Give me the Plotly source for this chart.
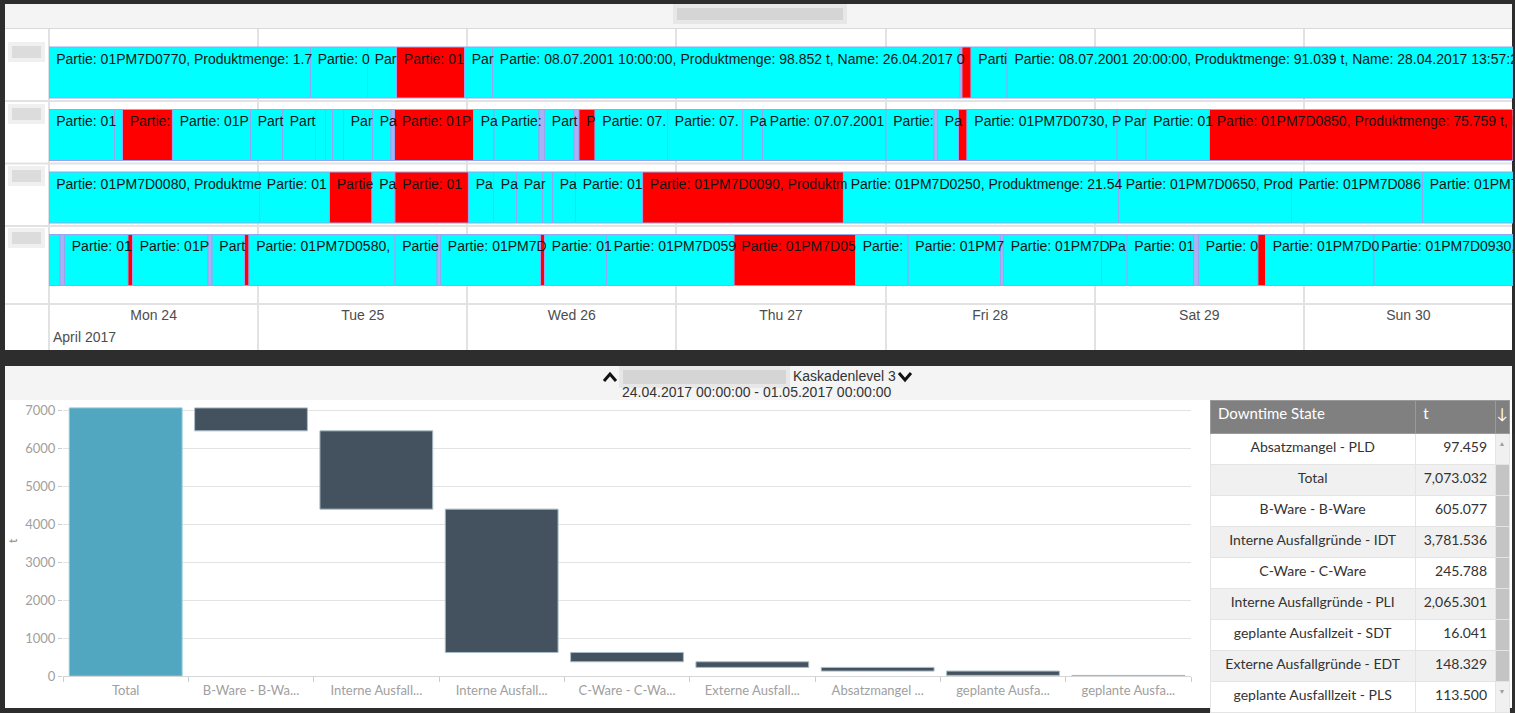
import plotly.graph_objects as go
from datetime import datetime

W, H = 1515, 713

# ---------------- timeline data ----------------
timeline_start = "2017-04-24 00:00"
timeline_end = "2017-05-01 00:00"

row1_starts = ["2017-04-24 00:00", "2017-04-25 06:00", "2017-04-25 12:33", "2017-04-25 15:53",
               "2017-04-25 23:41", "2017-04-26 02:54", "2017-04-28 08:32", "2017-04-28 08:46",
               "2017-04-28 09:49", "2017-04-28 13:57"]
row1_states = ["run", "run", "run", "down", "run", "run", "none", "down", "run", "run"]
row1_labels = ["Partie: 01PM7D0770, Produktmenge: 1.7", "Partie: 0", "Par", "Partie: 01",
               "Par", "Partie: 08.07.2001 10:00:00, Produktmenge: 98.852 t, Name: 26.04.2017 0",
               "", "", "Parti",
               "Partie: 08.07.2001 20:00:00, Produktmenge: 91.039 t, Name: 28.04.2017 13:57:2"]

row2_starts = ["2017-04-24 00:00", "2017-04-24 07:31", "2017-04-24 08:26", "2017-04-24 14:10",
               "2017-04-24 23:07", "2017-04-25 02:48", "2017-04-25 06:35", "2017-04-25 07:44",
               "2017-04-25 08:32", "2017-04-25 09:48", "2017-04-25 13:07", "2017-04-25 15:15",
               "2017-04-25 15:39", "2017-04-26 00:43", "2017-04-26 03:04", "2017-04-26 08:14",
               "2017-04-26 08:52", "2017-04-26 12:15", "2017-04-26 12:49", "2017-04-26 14:40",
               "2017-04-26 22:59", "2017-04-27 07:35", "2017-04-27 09:53", "2017-04-28 00:03",
               "2017-04-28 05:34", "2017-04-28 05:58", "2017-04-28 08:22", "2017-04-28 09:21",
               "2017-04-29 02:34", "2017-04-29 05:53", "2017-04-29 13:10"]
row2_states = ["run", "run", "down", "run", "run", "run", "run", "run", "run", "run", "run",
               "none", "down", "run", "run", "none", "run", "none", "down", "run", "run", "run",
               "run", "run", "none", "run", "down", "run", "run", "run", "down"]
row2_labels = ["Partie: 01", "", "Partie:", "Partie: 01P", "Part", "Part", "", "", "", "Par",
               "Pa", "", "Partie: 01P", "Pa", "Partie:", "", "Part", "", "P", "Partie: 07.",
               "Partie: 07.", "Pa", "Partie: 07.07.2001", "Partie:", "", "Pa", "",
               "Partie: 01PM7D0730, P", "Par", "Partie: 01",
               "Partie: 01PM7D0850, Produktmenge: 75.759 t, N"]

row3_starts = ["2017-04-24 00:00", "2017-04-25 00:10", "2017-04-25 08:11", "2017-04-25 13:04",
               "2017-04-25 15:42", "2017-04-26 00:08", "2017-04-26 03:01", "2017-04-26 05:39",
               "2017-04-26 08:38", "2017-04-26 09:47", "2017-04-26 12:25", "2017-04-26 20:07",
               "2017-04-27 19:10", "2017-04-29 02:44", "2017-04-29 22:35", "2017-04-30 13:37"]
row3_states = ["run", "run", "down", "run", "down", "run", "run", "run", "run", "run", "run",
               "down", "run", "run", "run", "run"]
row3_labels = ["Partie: 01PM7D0080, Produktme", "Partie: 01", "Partie", "Pa", "Partie: 01",
               "Pa", "Pa", "Par", "", "Pa", "Partie: 01", "Partie: 01PM7D0090, Produktm",
               "Partie: 01PM7D0250, Produktmenge: 21.54", "Partie: 01PM7D0650, Prod",
               "Partie: 01PM7D086", "Partie: 01PM7"]

row4_starts = ["2017-04-24 00:00", "2017-04-24 01:16", "2017-04-24 01:47", "2017-04-24 09:04",
               "2017-04-24 09:35", "2017-04-24 18:15", "2017-04-24 18:43", "2017-04-24 22:26",
               "2017-04-24 22:57", "2017-04-25 15:42", "2017-04-25 20:32", "2017-04-25 20:56",
               "2017-04-26 08:24", "2017-04-26 08:52", "2017-04-26 15:59", "2017-04-27 06:37",
               "2017-04-27 20:33", "2017-04-28 02:35", "2017-04-28 13:11", "2017-04-28 13:32",
               "2017-04-29 00:47", "2017-04-29 03:43", "2017-04-29 11:20", "2017-04-29 11:55",
               "2017-04-29 18:44", "2017-04-29 19:36", "2017-04-30 08:03"]
row4_states = ["run", "none", "run", "down", "run", "none", "run", "down", "run", "run", "none",
               "run", "down", "run", "run", "down", "run", "run", "none", "run", "run", "run",
               "none", "run", "down", "run", "run"]
row4_labels = ["", "", "Partie: 01", "", "Partie: 01P", "", "Part", "", "Partie: 01PM7D0580,",
               "Partie", "", "Partie: 01PM7D", "", "Partie: 01", "Partie: 01PM7D059",
               "Partie: 01PM7D05", "Partie:", "Partie: 01PM7", "", "Partie: 01PM7D", "Pa",
               "Partie: 01", "", "Partie: 0", "", "Partie: 01PM7D0", "Partie: 01PM7D0930,"]

rows = [(row1_starts, row1_states, row1_labels),
        (row2_starts, row2_states, row2_labels),
        (row3_starts, row3_states, row3_labels),
        (row4_starts, row4_states, row4_labels)]

state_colors = {"run": "#00ffff", "down": "#ff0000", "none": "#a9b1f2"}

# ---------------- waterfall / table data ----------------
table_states = ["Absatzmangel - PLD", "Total", "B-Ware - B-Ware", "Interne Ausfallgründe - IDT",
                "C-Ware - C-Ware", "Interne Ausfallgründe - PLI", "geplante Ausfallzeit - SDT",
                "Externe Ausfallgründe - EDT", "geplante Ausfalllzeit - PLS"]
table_values = [97.459, 7073.032, 605.077, 3781.536, 245.788, 2065.301, 16.041, 148.329, 113.500]

waterfall_order = ["Total", "B-Ware - B-Ware", "Interne Ausfallgründe - PLI",
                   "Interne Ausfallgründe - IDT", "C-Ware - C-Ware", "Externe Ausfallgründe - EDT",
                   "Absatzmangel - PLD", "geplante Ausfalllzeit - PLS", "geplante Ausfallzeit - SDT"]
waterfall_ticks = ["Total", "B-Ware - B-Wa...", "Interne Ausfall...", "Interne Ausfall...",
                   "C-Ware - C-Wa...", "Externe Ausfall...", "Absatzmangel ...",
                   "geplante Ausfa...", "geplante Ausfa..."]
value_unit = "t"

period_label = "24.04.2017 00:00:00 - 01.05.2017 00:00:00"
cascade_label = "Kaskadenlevel 3"


def px(x):
    return x / W


def py(y):
    return 1 - y / H


fig = go.Figure()

# ---- timeline bars ----
fmt = "%Y-%m-%d %H:%M"
for r, (starts, states, labels) in enumerate(rows):
    ends = starts[1:] + [timeline_end]
    durations = [(datetime.strptime(e, fmt) - datetime.strptime(s, fmt)).total_seconds() * 1000
                 for s, e in zip(starts, ends)]
    fig.add_trace(go.Bar(
        orientation="h", y=[r] * len(starts), base=starts, x=durations, width=0.816,
        marker=dict(color=[state_colors[s] for s in states], line=dict(color="#97a4f0", width=1)),
        xaxis="x", yaxis="y", hoverinfo="skip", showlegend=False))
    fig.add_trace(go.Scatter(
        x=starts, y=[r - 0.2] * len(starts), mode="markers+text", text=labels,
        textposition="middle right", marker=dict(size=10, opacity=0),
        textfont=dict(family="Liberation Sans, Arial", size=14, color="#161616"),
        xaxis="x", yaxis="y", hoverinfo="skip", showlegend=False, cliponaxis=True))

# ---- waterfall ----
lookup = dict(zip(table_states, table_values))
wf_values = [lookup[n] if n == "Total" else -lookup[n] for n in waterfall_order]
wf_measure = ["absolute" if n == "Total" else "relative" for n in waterfall_order]
fig.add_trace(go.Waterfall(
    x=waterfall_order, y=wf_values, measure=wf_measure, xaxis="x2", yaxis="y2",
    decreasing=dict(marker=dict(color="#43525e", line=dict(color="#a9bcc6", width=1))),
    increasing=dict(marker=dict(color="#43525e")),
    totals=dict(marker=dict(color="#51a7c0", line=dict(color="#8fc6d6", width=1))),
    connector=dict(visible=False), textinfo="none", hoverinfo="skip", showlegend=False))

# ---- table ----
n = len(table_states)
row_fill = ["#ffffff" if i % 2 == 0 else "#f0f0f0" for i in range(n)]
scroll_fill = ["#f0f0f0"] + ["#c4c4c4"] * (n - 2) + ["#f0f0f0"]
scroll_txt = ["▲"] + [""] * (n - 2) + ["▼"]
fig.add_trace(go.Table(
    domain=dict(x=[px(1210), px(1510)], y=[0, py(400)]),
    columnwidth=[206, 80, 14],
    header=dict(values=["Downtime State", value_unit, "↓"],
                fill_color="#808080", line=dict(color="#9a9a9a", width=1),
                align=["left", "left", "center"], height=33,
                font=dict(family="Lato, Open Sans", size=15, color="white")),
    cells=dict(values=[table_states, table_values, scroll_txt],
               format=["", ",.3f", ""],
               fill_color=[row_fill, row_fill, scroll_fill],
               line=dict(color="#e4e4e4", width=1),
               align=["center", "right", "center"], height=31,
               font=dict(family="Lato, Open Sans", size=[14, 14, 7],
                         color=["#333333", "#333333", "#a0a0a0"]))))

# ---- decorations ----
shapes = []


def rect(x0, y0, x1, y1, fill, layer="below", line=None):
    shapes.append(dict(type="rect", xref="paper", yref="paper", x0=px(x0), x1=px(x1),
                       y0=py(y1), y1=py(y0), fillcolor=fill, layer=layer,
                       line=line or dict(width=0)))


# panels
rect(5, 4, 1512, 350, "#ffffff")
rect(5, 4, 1512, 28, "#f4f4f4")
rect(5, 366, 1512, 708, "#ffffff")
rect(5, 366, 1512, 400, "#f4f4f4")
shapes.append(dict(type="line", xref="paper", yref="paper", x0=px(5), x1=px(1512),
                   y0=py(28.5), y1=py(28.5), line=dict(color="#dadada", width=1), layer="below"))
# row separators
for yv in [0.456, 1.456, 2.456, 3.704]:
    shapes.append(dict(type="line", xref="paper", yref="y", x0=px(5), x1=px(1512),
                       y0=yv, y1=yv, line=dict(color="#e2e2e2", width=2), layer="below"))
shapes.append(dict(type="line", xref="paper", yref="paper", x0=px(49), x1=px(49),
                   y0=py(350), y1=py(29), line=dict(color="#e2e2e2", width=2), layer="below"))
# blurred (anonymised) labels
for (x0, y0, x1, y1) in [(675, 6, 845, 22), (10, 44, 43, 60), (10, 106, 43, 122),
                         (10, 168, 43, 184), (10, 230, 43, 246), (621, 368, 788, 386)]:
    rect(x0 - 2, y0 - 2, x1 + 2, y1 + 2, "rgba(170,170,170,0.18)", layer="above")
    rect(x0 + 2, y0 + 2, x1 - 2, y1 - 2, "rgba(150,150,150,0.22)", layer="above")
# chevrons in the lower header
for pts in [[(604, 381), (610, 374), (616, 381)], [(899, 373), (905, 380), (911, 373)]]:
    path = "M {} {} L {} {} L {} {}".format(*[v for p in pts for v in (px(p[0]), py(p[1]))])
    shapes.append(dict(type="path", xref="paper", yref="paper", path=path,
                       line=dict(color="#111111", width=3), layer="above"))

annotations = [
    dict(text="April 2017", x=timeline_start, y=4.23, xref="x", yref="y", xanchor="left",
         yanchor="middle", xshift=2, showarrow=False,
         font=dict(family="Liberation Sans, Arial", size=14, color="#4d4d4d")),
    dict(text=cascade_label, x=px(791), y=py(376), xref="paper", yref="paper", xanchor="left",
         yanchor="middle", showarrow=False,
         font=dict(family="Liberation Sans, Arial", size=14, color="#333333")),
    dict(text=period_label, x=px(757), y=py(392), xref="paper", yref="paper", xanchor="center",
         yanchor="middle", showarrow=False,
         font=dict(family="Liberation Sans, Arial", size=14, color="#333333")),
    dict(text=value_unit, x=px(12), y=py(541), xref="paper", yref="paper", textangle=-90,
         xanchor="center", yanchor="middle", showarrow=False,
         font=dict(family="Lato, Open Sans", size=12, color="#8a8a8a")),
]

fig.update_layout(
    width=W, height=H, margin=dict(l=0, r=0, t=0, b=0, pad=0, autoexpand=False),
    paper_bgcolor="#2d2d2d", plot_bgcolor="rgba(0,0,0,0)",
    showlegend=False, waterfallgap=0.1, barmode="overlay",
    shapes=shapes, annotations=annotations,
    xaxis=dict(domain=[px(49), px(1513)], anchor="y", type="date", automargin=False,
               range=[timeline_start, timeline_end], tick0=timeline_start, dtick=86400000,
               tickformat="%a %d", ticklabelmode="period", ticklabelposition="inside",
               ticklabelstandoff=24, ticks="", showgrid=True, gridcolor="#e2e2e2", gridwidth=2,
               zeroline=False, showline=False, fixedrange=True,
               tickfont=dict(family="Liberation Sans, Arial", size=14, color="#4d4d4d")),
    yaxis=dict(domain=[py(350), py(29)], anchor="x", range=[4.44, -0.696], automargin=False,
               showgrid=False, showticklabels=False, zeroline=False, fixedrange=True),
    xaxis2=dict(domain=[px(63), px(1191)], anchor="y2", type="category", automargin=False,
                tickmode="array", tickvals=waterfall_order, ticktext=waterfall_ticks,
                tickson="boundaries", ticks="outside", ticklen=5, tickcolor="#cccccc",
                ticklabelstandoff=2,
                showgrid=False, showline=True, linecolor="#d6d6d6", zeroline=False,
                tickfont=dict(family="Lato, Open Sans", size=13, color="#a0a0a0")),
    yaxis2=dict(domain=[py(676), py(405)], anchor="x2", range=[0, 7150], dtick=1000,
                automargin=False,
                showgrid=True, gridcolor="#e3e3e3", gridwidth=1, zeroline=False,
                ticks="outside", ticklen=4, tickcolor="#cccccc",
                tickfont=dict(family="Lato, Open Sans", size=13, color="#a0a0a0")),
)

fig.write_html("out.html", config={"displayModeBar": False},
               post_script="document.body.style.margin='0';document.body.style.overflow='hidden';")
